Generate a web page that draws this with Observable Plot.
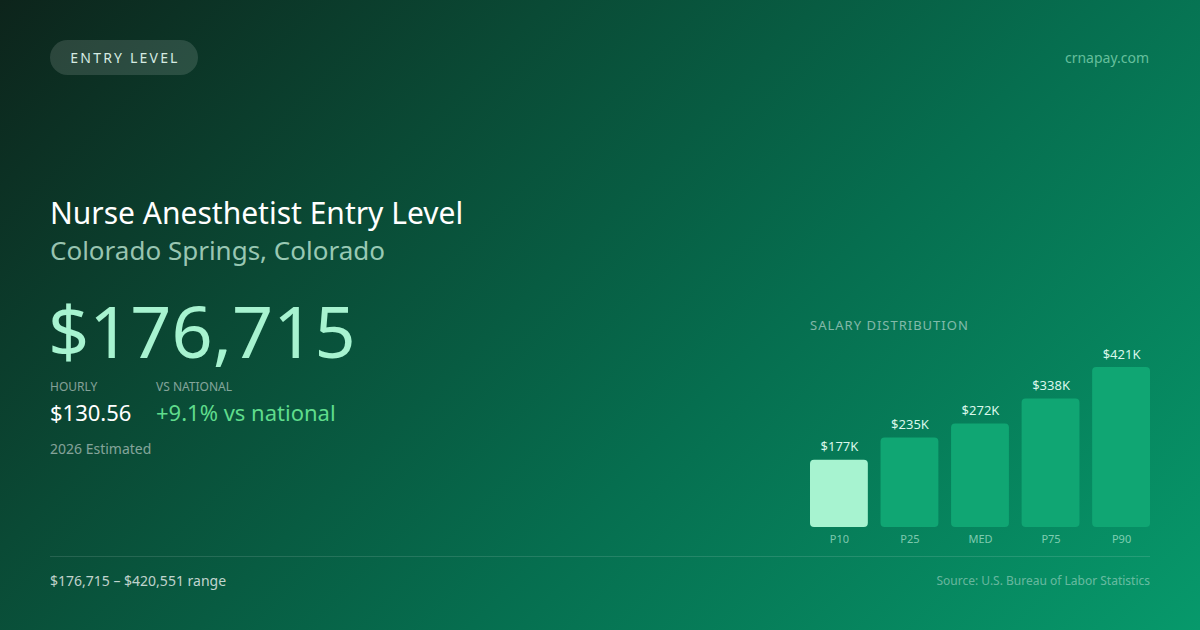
<!DOCTYPE html>
<html>
<head>
<meta charset="utf-8">
<script src="https://cdn.jsdelivr.net/npm/d3@7"></script>
<script src="https://cdn.jsdelivr.net/npm/@observablehq/plot@0.6"></script>
<style>
  html, body { margin: 0; padding: 0; }
  body { width: 1200px; height: 630px; overflow: hidden; font-family: "Noto Sans", "Open Sans", sans-serif; }
  #card {
    position: relative; width: 1200px; height: 630px; overflow: hidden;
    background: linear-gradient(135deg, #0d241b 0%, #0a4a35 30%, #066e4f 60%, #07996b 100%);
  }
  .abs { position: absolute; white-space: nowrap; }
  #pill {
    left: 50px; top: 40px; width: 148px; height: 35px; border-radius: 18px;
    background: rgba(255,255,255,0.13); color: #d6ebe2; font-size: 14px; letter-spacing: 2.2px;
    display: flex; align-items: center; justify-content: center; box-sizing: border-box; padding-left: 2px;
  }
  #site { right: 51px; top: 48px; font-size: 14px; color: rgba(167,243,208,0.6); line-height: 20px; }
  #title { left: 50px; top: 193px; font-size: 30px; color: #ffffff; line-height: 40px; }
  #subtitle { left: 50px; top: 232px; font-size: 26px; color: rgba(209,250,229,0.72); line-height: 36px; }
  #big { left: 48px; top: 282px; font-size: 72px; color: #a7f3d0; line-height: 96px; }
  .lbl { font-size: 12px; color: rgba(255,255,255,0.5); top: 379px; line-height: 16px; }
  .val { font-size: 22px; top: 397px; line-height: 30px; }
  #est { left: 50px; top: 439px; font-size: 14px; color: rgba(255,255,255,0.5); line-height: 20px; }
  #dist { left: 810px; top: 316px; font-size: 13px; letter-spacing: 1px; color: rgba(255,255,255,0.5); line-height: 18px; }
  #rule { left: 50px; top: 556px; width: 1100px; height: 1px; background: rgba(255,255,255,0.12); }
  #range { left: 50px; top: 571px; font-size: 14px; color: rgba(255,255,255,0.75); line-height: 20px; }
  #source { right: 50px; top: 572px; font-size: 12px; color: rgba(255,255,255,0.4); line-height: 18px; }
  #chart { left: 800px; top: 340px; }
</style>
</head>
<body>
<div id="card">
  <div id="pill" class="abs">ENTRY LEVEL</div>
  <div id="site" class="abs">crnapay.com</div>
  <div id="title" class="abs">Nurse Anesthetist Entry Level</div>
  <div id="subtitle" class="abs">Colorado Springs, Colorado</div>
  <div id="big" class="abs">$176,715</div>
  <div class="abs lbl" style="left:50px">HOURLY</div>
  <div class="abs lbl" style="left:156px">VS NATIONAL</div>
  <div class="abs val" style="left:50px;color:#ffffff">$130.56</div>
  <div class="abs val" style="left:156px;color:#5fdc8c">+9.1% vs national</div>
  <div id="est" class="abs">2026 Estimated</div>
  <div id="dist" class="abs">SALARY DISTRIBUTION</div>
  <div id="chart" class="abs"></div>
  <div id="rule" class="abs"></div>
  <div id="range" class="abs">$176,715 – $420,551 range</div>
  <div id="source" class="abs">Source: U.S. Bureau of Labor Statistics</div>
</div>
<script>
const percentiles = ["P10", "P25", "MED", "P75", "P90"];
const salaries = [176715, 235000, 272000, 338000, 420551];
const barLabels = ["$177K", "$235K", "$272K", "$338K", "$421K"];
const highlight = [true, false, false, false, false];

const data = percentiles.map((p, i) => ({ p, v: salaries[i], label: barLabels[i], hi: highlight[i] }));

const chart = Plot.plot({
  width: 360,
  height: 220,
  marginLeft: 10,
  marginRight: 10,
  marginTop: 27,
  marginBottom: 33,
  style: { background: "transparent", fontFamily: "'Noto Sans', sans-serif", overflow: "visible" },
  x: { domain: percentiles, paddingInner: 0.18, paddingOuter: 0, round: false, label: null },
  y: { domain: [0, d3.max(salaries)], axis: null },
  marks: [
    Plot.barY(data, { x: "p", y: "v", fill: d => d.hi ? "#a7f3d0" : "#10a673", rx: 4 }),
    Plot.text(data, { x: "p", y: "v", text: "label", dy: -13, fill: "#d9f7ea", fontSize: 13 }),
    Plot.axisX({ tickSize: 0, tickPadding: 8, fontSize: 11, color: "rgba(209,250,229,0.6)", label: null })
  ]
});
document.getElementById("chart").appendChild(chart);
</script>
</body>
</html>
